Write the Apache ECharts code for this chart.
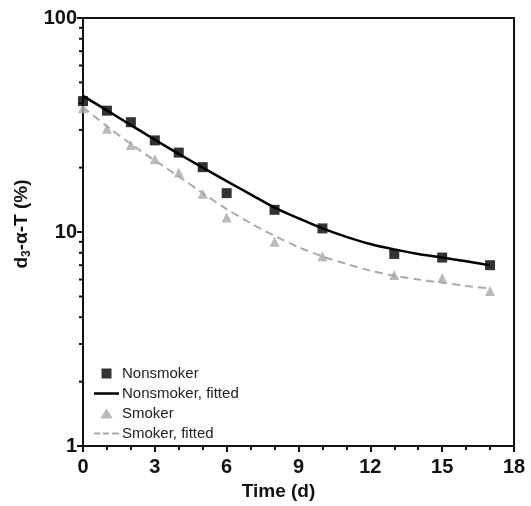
<!DOCTYPE html>
<html lang="en">
<head>
    <meta charset="utf-8">
    <title>d3-alpha-T</title>
    <style>
        html, body { margin: 0; padding: 0; background: #fff; }
        #chart { width: 531px; height: 506px; }
    </style>
</head>
<body>
    <div id="chart"></div>
    <script src="https://cdn.jsdelivr.net/npm/echarts@6/dist/echarts.min.js"></script>
    <script type="text/javascript">
        // measured days
        var days = [0, 1, 2, 3, 4, 5, 6, 8, 10, 13, 15, 17];
        var nonsmoker = [40.9, 36.9, 32.6, 26.8, 23.5, 20.1, 15.2, 12.7, 10.4, 7.9, 7.6, 7.0];
        var smoker = [37.9, 30.4, 25.5, 21.9, 19.0, 15.1, 11.7, 9.0, 7.7, 6.3, 6.1, 5.3];
        // fitted curves, read at every day
        var fitDays = [0, 1, 2, 3, 4, 5, 6, 7, 8, 9, 10, 11, 12, 13, 14, 15, 16, 17];
        var nonsmokerFit = [43.3, 37.0, 31.6, 27.0, 23.2, 20.0, 17.3, 15.0, 13.0, 11.6, 10.4, 9.5, 8.8, 8.3, 7.9, 7.6, 7.3, 7.0];
        var smokerFit = [38.3, 31.2, 25.8, 21.6, 18.2, 15.2, 12.8, 11.0, 9.6, 8.5, 7.7, 7.1, 6.6, 6.25, 6.0, 5.8, 5.6, 5.45];
        var yMinorTicks = [2, 3, 4, 5, 6, 7, 8, 9, 20, 30, 40, 50, 60, 70, 80, 90];

        function pairs(xs, ys) {
            return xs.map(function (x, i) { return [x, ys[i]]; });
        }

        var font = "'Liberation Sans', Arial, sans-serif";
        var mychart = echarts.init(document.getElementById("chart"));
        var option = {
            backgroundColor: '#fff',
            animation: false,
            textStyle: { fontFamily: font },
            grid: {
                show: true,
                left: 83,
                right: 17,
                top: 18,
                bottom: 55,
                borderColor: '#111',
                borderWidth: 2,
                containLabel: false
            },
            legend: {
                orient: 'vertical',
                left: 94,
                top: 366,
                padding: 0,
                itemWidth: 25,
                itemHeight: 10,
                itemGap: 5,
                symbolKeepAspect: true,
                data: [
                    { name: 'Nonsmoker', icon: 'path://M0,0L10,0L10,10L0,10Z' },
                    { name: 'Nonsmoker, fitted', icon: 'path://M0,0h25v2.5h-25z' },
                    { name: 'Smoker', icon: 'path://M5,1L10,9L0,9Z' },
                    { name: 'Smoker, fitted', icon: 'path://M0,0h6v2h-6z M9,0h6v2h-6z M18,0h7v2h-7z' }
                ],
                textStyle: { fontSize: 15, color: '#222', fontFamily: font, padding: [0, 0, 0, -2] }
            },
            xAxis: {
                type: 'value',
                min: 0,
                max: 18,
                interval: 3,
                name: 'Time (d)',
                nameLocation: 'middle',
                nameGap: 28,
                nameTextStyle: { fontSize: 19, fontWeight: 'bold', color: '#111', padding: [0, 40, 0, 0] },
                axisLine: { lineStyle: { color: '#111', width: 2 } },
                axisTick: { show: true, length: 6, lineStyle: { color: '#111', width: 2 } },
                minorTick: { show: true, splitNumber: 3, length: 4, lineStyle: { color: '#111', width: 2 } },
                axisLabel: { fontSize: 20, fontWeight: 'bold', color: '#111', margin: 11 },
                splitLine: { show: false }
            },
            yAxis: {
                type: 'log',
                logBase: 10,
                min: 1,
                max: 100,
                name: '{a|d}{s|3}{a|-α-T (%)}',
                nameLocation: 'middle',
                nameGap: 37,
                nameTextStyle: {
                    padding: [0, 0, 0, 16],
                    rich: {
                        a: { fontSize: 19, fontWeight: 'bold', color: '#111', fontFamily: font },
                        s: { fontSize: 12, fontWeight: 'bold', color: '#111', fontFamily: font, padding: [9, 0, 0, 0] }
                    }
                },
                axisLine: { lineStyle: { color: '#111', width: 2 } },
                axisTick: { show: true, length: 6, lineStyle: { color: '#111', width: 2 } },
                axisLabel: { fontSize: 20, fontWeight: 'bold', color: '#111', margin: 6 },
                splitLine: { show: false }
            },
            series: [
                {
                    name: 'Nonsmoker',
                    type: 'scatter',
                    symbol: 'rect',
                    symbolSize: 10,
                    itemStyle: { color: '#000' },
                    data: pairs(days, nonsmoker),
                    z: 4
                },
                {
                    name: 'Nonsmoker, fitted',
                    type: 'line',
                    symbol: 'none',
                    smooth: 0.3,
                    lineStyle: { color: '#000', width: 2.5 },
                    itemStyle: { color: '#000' },
                    data: pairs(fitDays, nonsmokerFit),
                    z: 3
                },
                {
                    name: 'Smoker',
                    type: 'scatter',
                    symbol: 'triangle',
                    symbolSize: 10,
                    itemStyle: { color: '#a9a9a9' },
                    data: pairs(days, smoker),
                    z: 2
                },
                {
                    name: 'Smoker, fitted',
                    type: 'line',
                    symbol: 'none',
                    smooth: 0.3,
                    lineStyle: { color: '#a9a9a9', width: 2, type: [8, 5] },
                    itemStyle: { color: '#a9a9a9' },
                    data: pairs(fitDays, smokerFit),
                    z: 1
                },
                {
                    // minor ticks of the log axis (2..9, 20..90)
                    name: 'minor',
                    type: 'custom',
                    clip: false,
                    silent: true,
                    data: yMinorTicks.map(function (v) { return [0, v]; }),
                    renderItem: function (params, api) {
                        var p = api.coord([0, api.value(1)]);
                        return {
                            type: 'line',
                            shape: { x1: p[0] - 4, y1: p[1], x2: p[0], y2: p[1] },
                            style: { stroke: '#111', lineWidth: 2 }
                        };
                    }
                }
            ]
        };
        mychart.setOption(option);
    </script>
</body>
</html>
